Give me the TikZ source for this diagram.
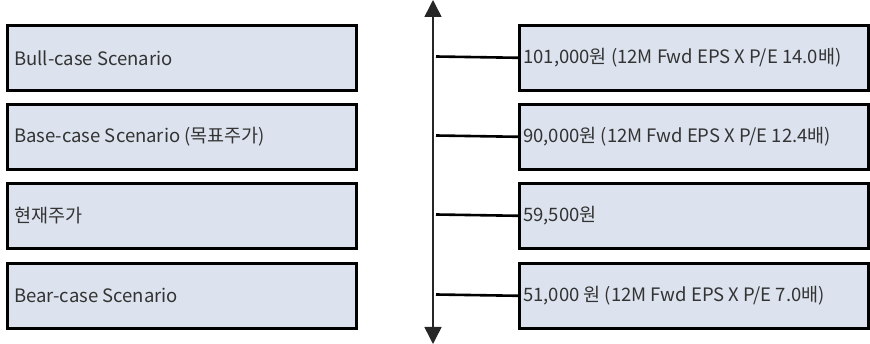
\documentclass[tikz,border=0pt]{standalone}
\usepackage{fontspec}
\setmainfont{Noto Sans CJK KR}
\usetikzlibrary{arrows.meta}
\definecolor{boxfill}{HTML}{DCE3EE}
\definecolor{txt}{HTML}{333333}
\begin{document}
\begin{tikzpicture}[x=1pt,y=-1pt,
  scenbox/.style={draw=black,line width=2.6pt,fill=boxfill,minimum width=349pt,minimum height=65pt,inner sep=0pt,anchor=north west},
  lbl/.style={anchor=west,text=txt,font=\fontsize{18.5pt}{22pt}\selectfont,inner sep=0pt},
  axisline/.style={draw=black!85,line width=1.5pt,{Triangle[width=17pt,length=17pt]}-{Triangle[width=17pt,length=17pt]}},
  conn/.style={draw=black,line width=2.6pt}]
\useasboundingbox (0,0) rectangle (870,344);
% left boxes
\node[scenbox] (l1) at (6,24) {};
\node[scenbox] (l2) at (6,103) {};
\node[scenbox] (l3) at (6,182) {};
\node[scenbox] (l4) at (6,262) {};
% right boxes
\node[scenbox] (r1) at (518,24) {};
\node[scenbox] (r2) at (518,103) {};
\node[scenbox] (r3) at (518,182) {};
\node[scenbox] (r4) at (518,262) {};
% labels
\node[lbl] (t1) at ([xshift=8pt]l1.west) {Bull-case Scenario};
\node[lbl] (t2) at ([xshift=8pt]l2.west) {Base-case Scenario (목표주가)};
\node[lbl] (t3) at ([xshift=8pt]l3.west) {현재주가};
\node[lbl] (t4) at ([xshift=8pt]l4.west) {Bear-case Scenario};
\node[lbl] (u1) at ([xshift=5pt]r1.west) {101,000원 (12M Fwd EPS X P/E 14.0배)};
\node[lbl] (u2) at ([xshift=5pt]r2.west) {90,000원 (12M Fwd EPS X P/E 12.4배)};
\node[lbl] (u3) at ([xshift=5pt]r3.west) {59,500원};
\node[lbl] (u4) at ([xshift=5pt]r4.west) {51,000 원 (12M Fwd EPS X P/E 7.0배)};
% axis
\coordinate (axtop) at (433,0);
\coordinate (axbot) at (433,344);
\draw[axisline] (axtop) -- (axbot);
\coordinate (a1) at (436,56.5);
\coordinate (a2) at (436,135.5);
\coordinate (a3) at (436,214.5);
\coordinate (a4) at (436,294.5);
\draw[conn] (a1) -- (r1.west);
\draw[conn] (a2) -- (r2.west);
\draw[conn] (a3) -- (r3.west);
\draw[conn] (a4) -- (r4.west);
\end{tikzpicture}
\end{document}
